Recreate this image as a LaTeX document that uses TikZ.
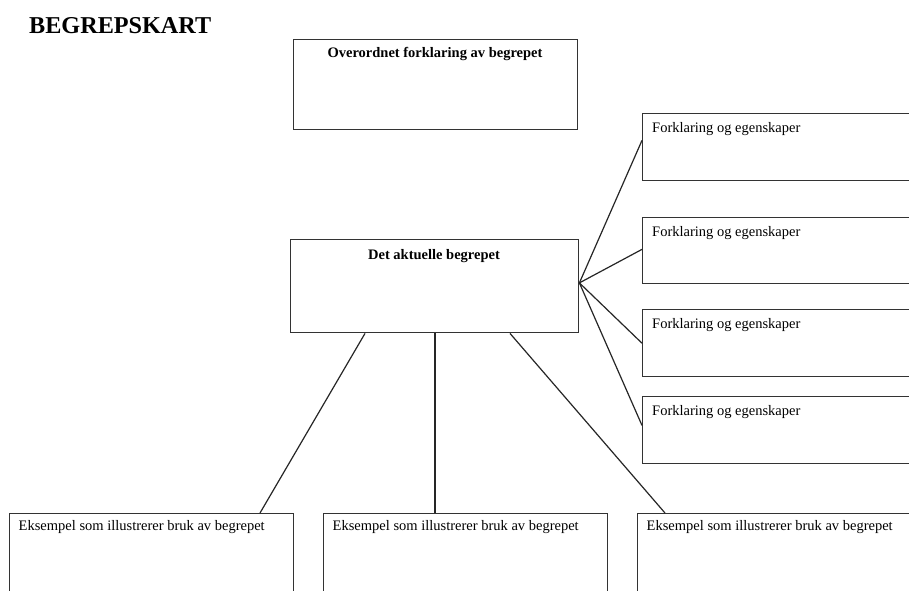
\documentclass[tikz,border=0pt]{standalone}
\usepackage{fontspec}
\setmainfont{Liberation Serif}
\usetikzlibrary{calc}
\begin{document}
\begin{tikzpicture}[x=1pt,y=-1pt,
  box/.style={draw=black!80, line width=1.4pt, rectangle, inner sep=0pt, anchor=north west, fill=none},
  wide/.style={box, minimum width=284pt},
  conn/.style={draw=black!85, line width=1.2pt},
  lbl/.style={inner sep=0pt, font=\fontsize{14.5}{17}\selectfont},
  blbl/.style={inner sep=0pt, font=\fontsize{14.5}{17}\selectfont\bfseries, anchor=base}]
\useasboundingbox (0,0) rectangle (909,590);
\clip (0,0) rectangle (909,590);
\fill[white] (0,0) rectangle (909,590);

\node[inner sep=0pt, anchor=base west, font=\fontsize{24.2}{28}\selectfont\bfseries] (title) at (29,33) {BEGREPSKART};

% boxes
\node[wide, minimum height=90pt] (top) at (293,39) {};
\node[box, minimum width=288pt, minimum height=93pt] (mid) at (290,239) {};
\node[wide, minimum height=67pt] (r1) at (642,113) {};
\node[wide, minimum height=66pt] (r2) at (642,217) {};
\node[wide, minimum height=67pt] (r3) at (642,309) {};
\node[wide, minimum height=67pt] (r4) at (642,396) {};
\node[wide, minimum height=127pt] (b1) at (9,513) {};
\node[wide, minimum height=127pt] (b2) at (323,513) {};
\node[wide, minimum height=127pt] (b3) at (637,513) {};

% texts
\node[blbl] (ttop) at (435,57) {Overordnet forklaring av begrepet};
\node[blbl] (tmid) at (434,259) {Det aktuelle begrepet};
\foreach \r in {r1,r2,r3,r4}{
  \node[lbl, anchor=base west] (t\r) at ($(\r.north west)+(10,19)$) {Forklaring og egenskaper};
}
\foreach \b in {b1,b2,b3}{
  \node[lbl, anchor=base west] (t\b) at ($(\b.north west)+(9.5,17)$) {Eksempel som illustrerer bruk av begrepet};
}

% connectors
\coordinate (hub) at ($(mid.north east)!0.465!(mid.south east)$);
\draw[conn] (hub) -- ($(r1.north west)!0.4!(r1.south west)$);
\draw[conn] (hub) -- ($(r2.north west)!0.48!(r2.south west)$);
\draw[conn] (hub) -- ($(r3.north west)!0.5!(r3.south west)$);
\draw[conn] (hub) -- ($(r4.north west)!0.43!(r4.south west)$);

\draw[conn] ($(mid.south west)+(75,0)$) -- ($(b1.north west)+(251,0)$);
\draw[conn] ($(mid.south west)+(145,0)$) -- ($(b2.north west)+(112,0)$);
\draw[conn] ($(mid.south west)+(220,0)$) -- ($(b3.north west)+(28,0)$);
\end{tikzpicture}
\end{document}
